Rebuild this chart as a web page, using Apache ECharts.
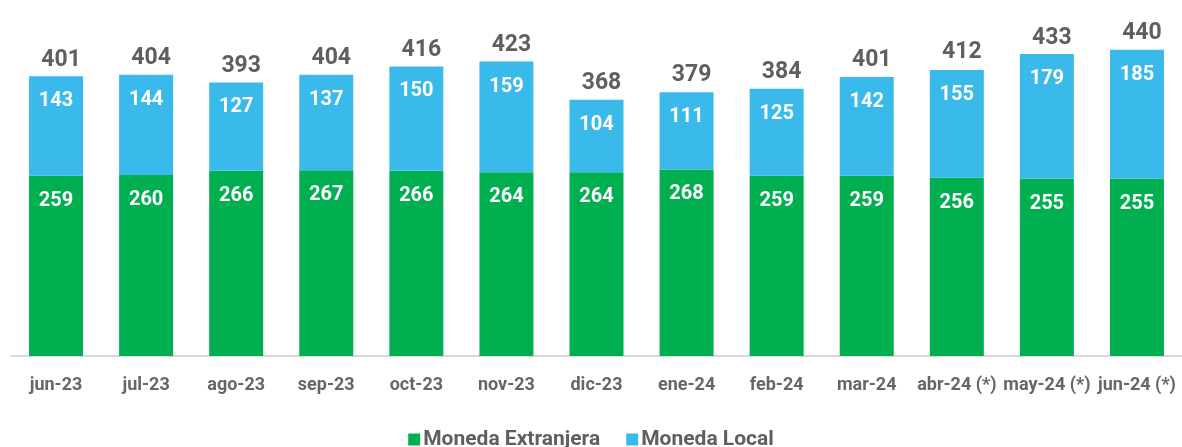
<!DOCTYPE html>
<html>
<head>
<meta charset="utf-8">
<script src="https://cdn.jsdelivr.net/npm/echarts@6/dist/echarts.min.js"></script>
<style>
  html, body { margin: 0; padding: 0; background: #fff; }
  #chart { width: 1182px; height: 447px; }
</style>
</head>
<body>
<div id="chart"></div>
<script>
var months = ['jun-23','jul-23','ago-23','sep-23','oct-23','nov-23','dic-23','ene-24','feb-24','mar-24','abr-24 (*)','may-24 (*)','jun-24 (*)'];
var extranjera = [259, 260, 266, 267, 266, 264, 264, 268, 259, 259, 256, 255, 255];
var local = [143, 144, 127, 137, 150, 159, 104, 111, 125, 142, 155, 179, 185];
var totals = [401, 404, 393, 404, 416, 423, 368, 379, 384, 401, 412, 433, 440];

var fontName = 'Roboto, "Liberation Sans", sans-serif';
var grey = '#5f5f5f';

var chart = echarts.init(document.getElementById('chart'));

var option = {
    animation: false,
    grid: { left: 11, width: 1175, top: 8, bottom: 91 },
    legend: {
        data: ['Moneda Extranjera', 'Moneda Local'],
        top: 424,
        left: 'center',
        itemWidth: 12,
        itemHeight: 12,
        itemGap: 26,
        icon: 'rect',
        textStyle: { color: grey, fontSize: 21, fontWeight: 'bold', fontFamily: fontName, padding: [0, 0, 0, -2] }
    },
    xAxis: {
        type: 'category',
        data: months,
        axisLine: { lineStyle: { color: '#d9d9d9', width: 2 } },
        axisTick: { show: false },
        axisLabel: { color: '#666', fontSize: 18, fontWeight: 'bold', fontFamily: fontName, margin: 20, interval: 0 }
    },
    yAxis: {
        type: 'value',
        min: 0,
        max: 500,
        show: false,
        splitLine: { show: false }
    },
    series: [
        {
            name: 'Moneda Extranjera',
            type: 'bar',
            stack: 'total',
            barWidth: 54,
            data: extranjera,
            itemStyle: { color: '#00AF50' },
            label: { show: true, position: 'insideTop', distance: 15, color: '#fff', fontSize: 20, fontWeight: 'bold', fontFamily: fontName }
        },
        {
            name: 'Moneda Local',
            type: 'bar',
            stack: 'total',
            barWidth: 54,
            data: local,
            itemStyle: { color: '#3ABAEB' },
            label: { show: true, position: 'insideTop', distance: 15, color: '#fff', fontSize: 20, fontWeight: 'bold', fontFamily: fontName }
        },
        {
            name: 'Total',
            type: 'bar',
            barWidth: 54,
            barGap: '-100%',
            z: 1,
            data: totals,
            itemStyle: { color: 'transparent' },
            label: { show: true, position: 'top', distance: 5, offset: [5, 0], color: grey, fontSize: 23, fontWeight: 'bold', fontFamily: fontName }
        }
    ]
};

chart.setOption(option);
</script>
</body>
</html>
